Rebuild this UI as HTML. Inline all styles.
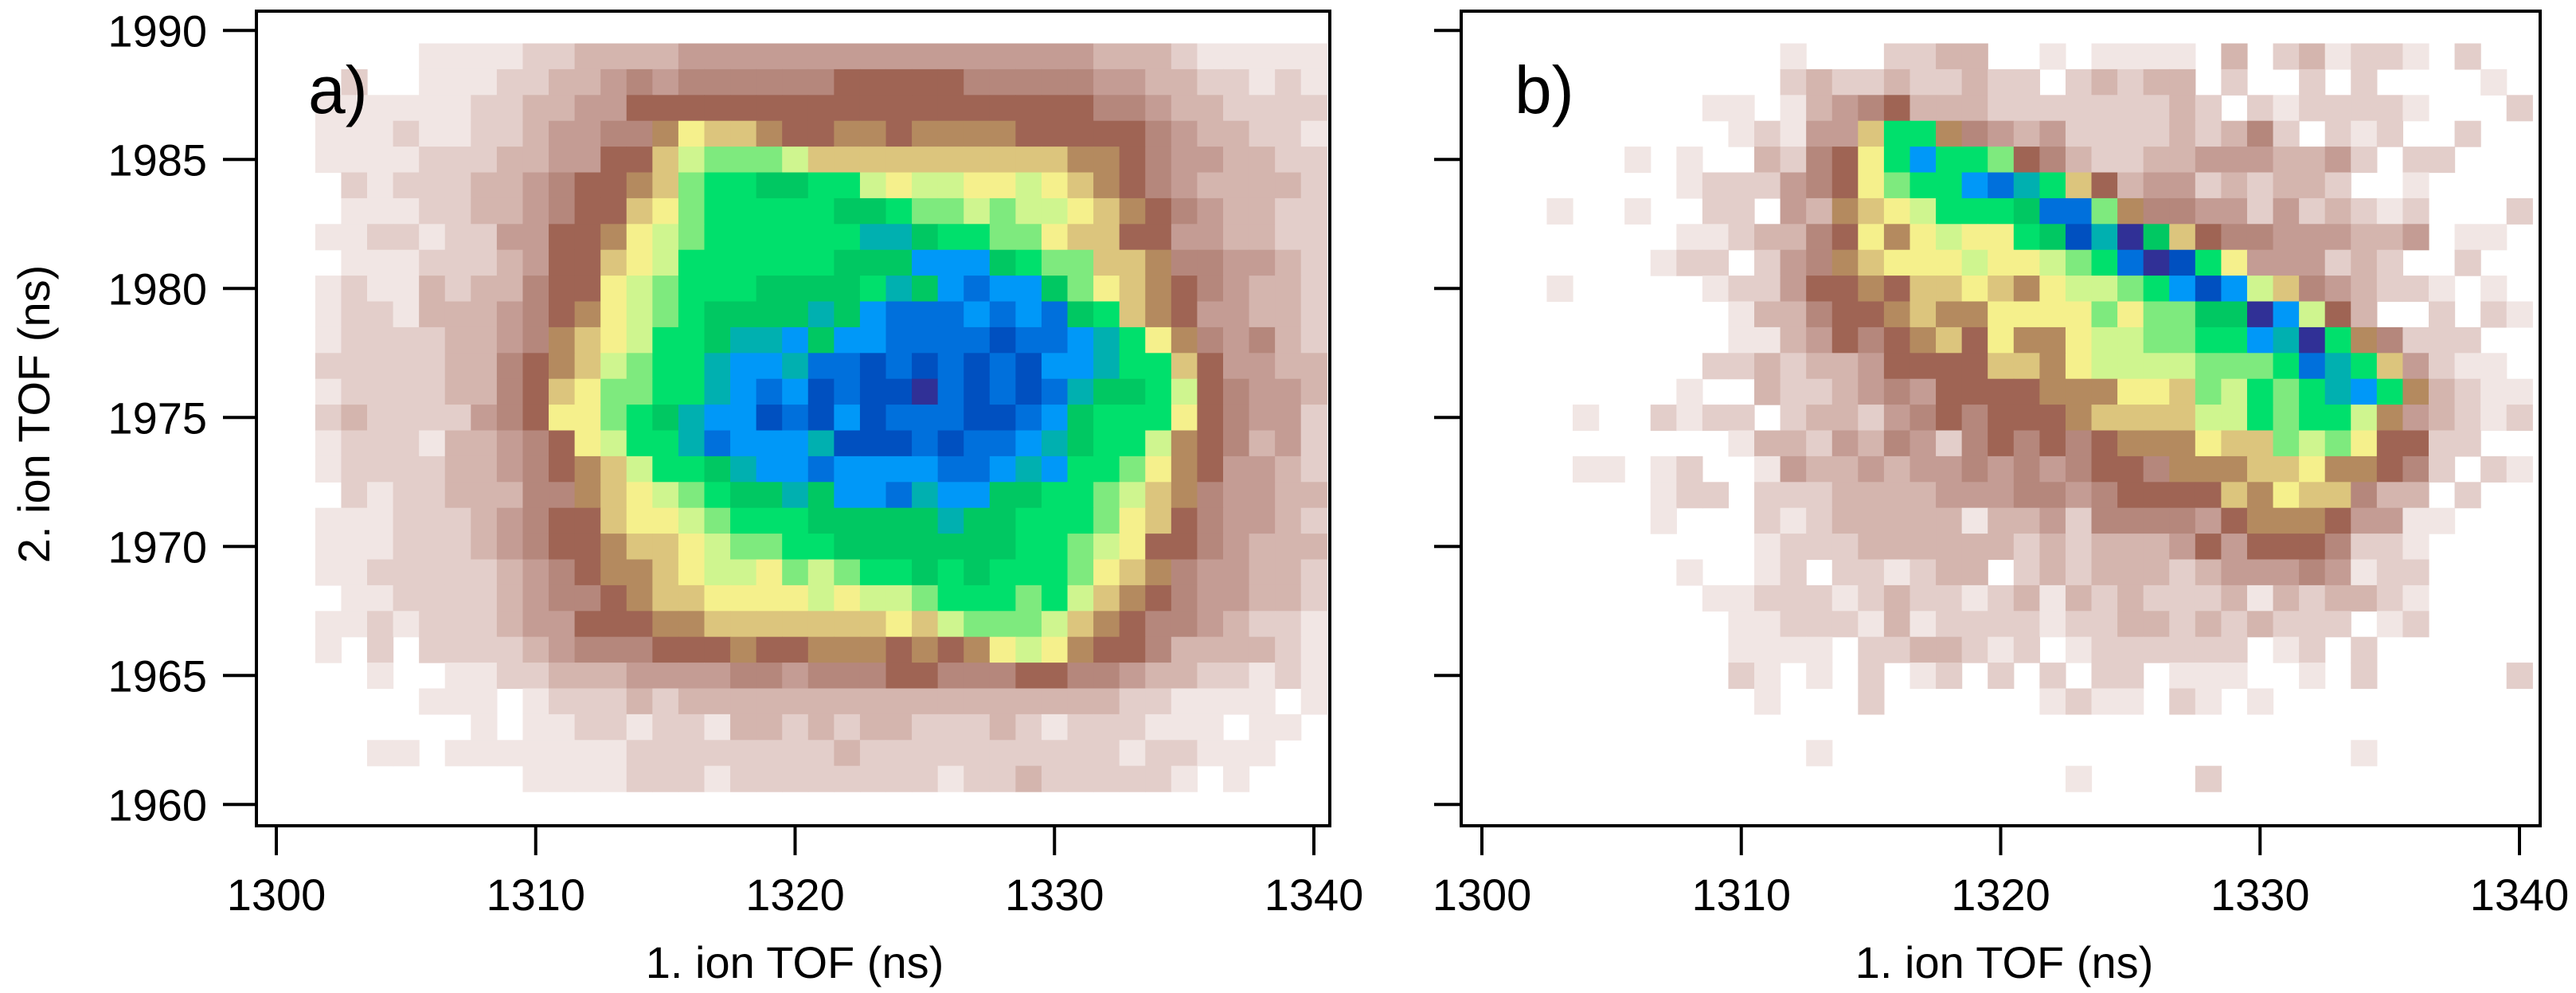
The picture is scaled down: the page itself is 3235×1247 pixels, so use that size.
<!DOCTYPE html>
<html><head><meta charset="utf-8"><style>
html,body{margin:0;padding:0;background:#fff}
svg{display:block}
text{font-family:"Liberation Sans",Arial,sans-serif;fill:#000}
</style></head><body>
<svg id="fig" width="3235" height="1247" viewBox="0 0 3235 1247" xmlns="http://www.w3.org/2000/svg">
<g id="cellsA"></g>
<g id="cellsB"></g>
<g id="axes"></g>
<text x="387" y="142" font-size="84">a)</text>
<text x="1902" y="142" font-size="84">b)</text>
<text transform="translate(62,520) rotate(-90)" text-anchor="middle" font-size="56">2. ion TOF (ns)</text>
<text x="998" y="1228" text-anchor="middle" font-size="56">1. ion TOF (ns)</text>
<text x="2517" y="1228" text-anchor="middle" font-size="56">1. ion TOF (ns)</text>
</svg>
<script>
// ---- data ----
var xTicks = [1300, 1310, 1320, 1330, 1340];
var yTicks = [1960, 1965, 1970, 1975, 1980, 1985, 1990];
var xBinStart = 1302;   // first column center (ns)
var yBinTop = 1989;     // first row center (ns)
var levelColors = ["#ffffff","#f1e6e4","#e3ceca","#d4b5ae","#c49c94","#b5877c","#9f6454","#b48a5f","#dcc57d","#f5f08c","#cff58f","#7eea7e","#00e06c","#00c862","#00b0b0","#0098f8","#0070dc","#0050c0","#303096"];
var countsA = [
"000011112233334444444444444444333211111",
"020011122334545555556666655555443322121",
"111111223344666666666666666666554332222",
"111211223445579887667767777666665433221",
"11112223344668ABBBA88888888887765443322",
"02122233456678BCCDDCCA9AA99A98765433332",
"01112233456689BCCCCCDDCBBABAA9876543322",
"1122122446679ABCCCCCCEEDCCBB98866443322",
"0111222346689ACCCCCCDDDFFFDCBB887554432",
"121132335669ABCCCDDDDCEDFGFFDB987654332",
"122133345679ABCDDDDEDFGGGFGFGDC87644332",
"122223345789ACCDEEFDFFGGGGHGGFEC9754532",
"22222335678ABCCEFFEGGHGHGHGHFFECC864433",
"12222335689BBCCEFGFHGHHIGHGHGEDDCA65443",
"23222245699BCDEFFHGHFHGGGHHGFDCCC965442",
"12221334569ACCEGFFFEHHHGHGGFEDCCA765342",
"122223345678ACCDEFFGFFFFGGFEFCCB9764432",
"0212233355789ABCDDEDFFGEFFDDCCBA8754433",
"11122234566899ABCCCDDDDDEDDCCCB98654432",
"111222345667889ABBCCDDDDDDDCCBA96654333",
"112222234567789AA9BABCCDCDCCCB987544332",
"0112222345567889999A9AABCCCBCA876544332",
"112122234466677888888898ABBBA8765543221",
"102022223455566676677767679A97665333321",
"001001122333444455455566555665543322121",
"000011101222323333333333333333322111101",
"000000101122122133232332223212221110110",
"001101111111222222223222222222212211100",
"000000001111222122222222122322222101000"
];
var countsB = [
"000000000010002233001011110302312210200",
"000000000023223223220232330200202000010",
"000000011013456333222222232021222210002 0".replace(/ /g,""),
"00000000121448CC75434222232352021200200",
"00001010032569CFCCB65322334443342022000",
"00000012224569BCCFGEC863442323320010000",
"010010022043789ACCCDGGB7554424232120002",
"0000001123356979A99CDHEID86554443340110",
"00000122024578999A99ABCGIHC944423200200",
"010000012246676889879AABCFHFA8543221010",
"0000000013356678779999B9BBDDIFA63002021",
"0000000011346567869779AABBCCFEIC7522200",
"0000000223233466668879AAAABBBCGEC842110",
"00000010032234546666777998BACBCEFC73211",
"00100212202332456566678888AACBCCA743212",
"00000000133243542565656777988BAB9662200",
"001101200143343445454566577788977652021",
"000001220222333344455456666879885330200",
"000001000212333331334255554677764411000",
"000000000122233333323233346466652210000",
"000000100120221233023233323444541220000",
"000000011222123221231323222313233210000",
"000000001122213122221223323232220120000",
"000000001111022332120122222201202000000",
"000000002101020120202022011100102000002",
"000000000100020000001211021010000000000",
"000000000000000000000000000000000000000",
"000000000001000000000000000000001000000",
"000000000000000000000100002000000000000"
];
// ---- axes geometry ----
var panels = [
  {id:"A", frameL:322, frameR:1670, x0:347, tickL:280, data:countsA, g:"cellsA"},
  {id:"B", frameL:1835, frameR:3190, x0:1861, tickL:1801, data:countsB, g:"cellsB"}
];
var pxPerNsX = 32.575, pxPerNsY = 32.4, frameT = 14, frameB = 1037;
function xScale(p, v){ return p.x0 + (v - 1300) * pxPerNsX; }
function yScale(v){ return 38.3 + (1990 - v) * pxPerNsY; }
var NS = "http://www.w3.org/2000/svg";
function mk(tag, attrs){ var e = document.createElementNS(NS, tag); for (var k in attrs) e.setAttribute(k, attrs[k]); return e; }

panels.forEach(function(p){
  var g = document.getElementById(p.g);
  p.data.forEach(function(row, ri){
    var yc = yBinTop - ri;
    for (var ci = 0; ci < row.length; ci++){
      var lv = parseInt(row[ci], 36);
      if (!lv) continue;
      var xc = xBinStart + ci;
      var x1 = xScale(p, xc - 0.5), x2 = xScale(p, xc + 0.5);
      var y1 = yScale(yc + 0.5), y2 = yScale(yc - 0.5);
      var r = mk("rect", {x:x1.toFixed(2), y:y1.toFixed(2), width:(x2-x1+0.6).toFixed(2), height:(y2-y1+0.6).toFixed(2), fill:levelColors[lv]});
      
      
      g.appendChild(r);
    }
  });
  var ax = document.getElementById("axes");
  var fr = mk("rect", {x:p.frameL, y:frameT, width:p.frameR-p.frameL, height:frameB-frameT, fill:"none", stroke:"#000", "stroke-width":4});
  
  
  ax.appendChild(fr);
  yTicks.forEach(function(t){
    var y = yScale(t);
    var l = mk("line", {x1:p.tickL, x2:p.frameL, y1:y, y2:y, stroke:"#000", "stroke-width":4});
    
    
    ax.appendChild(l);
    if (p.id === "A"){
      var tx = mk("text", {x:260, y:y+20, "text-anchor":"end", "font-size":56});
      tx.textContent = t;
      
      
      ax.appendChild(tx);
    }
  });
  xTicks.forEach(function(t){
    var x = xScale(p, t);
    var l = mk("line", {x1:x, x2:x, y1:frameB, y2:1074, stroke:"#000", "stroke-width":4});
    
    
    ax.appendChild(l);
    var tx = mk("text", {x:x, y:1143, "text-anchor":"middle", "font-size":56});
    tx.textContent = t;
    
    
    ax.appendChild(tx);
  });
});
</script>
</body></html>
